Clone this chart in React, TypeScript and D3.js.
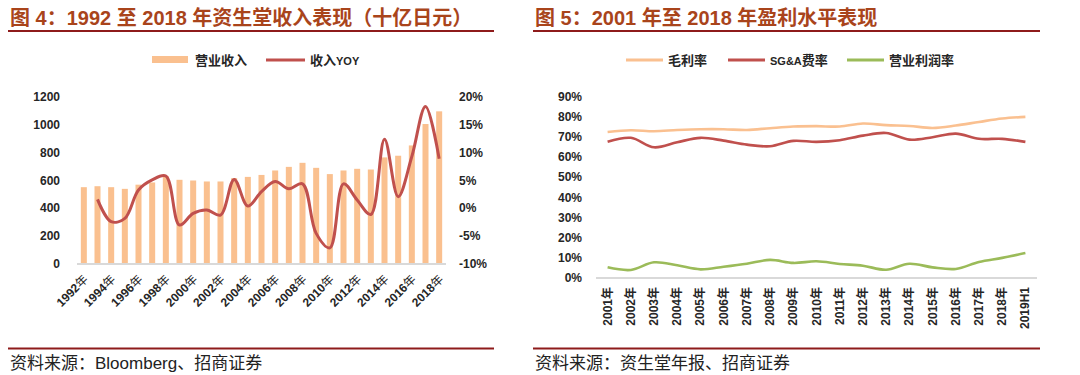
import React from 'react';
import * as d3 from 'd3';

// Figure 4: revenue (bn JPY) and YoY growth
const revYears = [1992, 1993, 1994, 1995, 1996, 1997, 1998, 1999, 2000, 2001, 2002, 2003, 2004, 2005, 2006, 2007, 2008, 2009, 2010, 2011, 2012, 2013, 2014, 2015, 2016, 2017, 2018];
const revenue = [552, 559, 552, 540, 570, 586, 630, 605, 600, 593, 593, 617, 626, 640, 672, 698, 727, 691, 646, 672, 684, 679, 766, 778, 852, 1006, 1097];
// YOY in %, null where no value (1992)
const revYoy = [null, 1.6, -2.4, -1.8, 3.3, 5.1, 5.8, -3.0, -0.9, -0.3, -1.2, 5.2, 0.4, 3.0, 4.8, 3.5, 4.4, -4.5, -7.1, 4.4, 1.5, -1.1, 12.4, 2.1, 9.3, 18.3, 8.9];
const leftTicks = [0, 200, 400, 600, 800, 1000, 1200];
const rightTicks = [-10, -5, 0, 5, 10, 15, 20];

// Figure 5: margins
const marginCats = ['2001年', '2002年', '2003年', '2004年', '2005年', '2006年', '2007年', '2008年', '2009年', '2010年', '2011年', '2012年', '2013年', '2014年', '2015年', '2016年', '2017年', '2018年', '2019H1'];
const grossMargin = [72.6, 73.5, 73.0, 73.6, 74.0, 74.0, 73.6, 74.5, 75.3, 75.5, 75.3, 76.8, 76.0, 75.6, 74.6, 75.8, 77.6, 79.3, 80.1];
const sgaRatio = [67.7, 69.7, 65.0, 67.5, 69.7, 68.3, 66.3, 65.5, 68.2, 67.7, 68.5, 70.8, 72.1, 68.8, 70.0, 71.8, 69.2, 69.2, 67.7];
const opMargin = [5.3, 4.0, 7.8, 6.3, 4.3, 5.6, 7.1, 9.0, 7.5, 8.3, 7.0, 6.1, 4.1, 7.1, 5.3, 4.5, 8.0, 10.0, 12.4];
const pctTicks = [0, 10, 20, 30, 40, 50, 60, 70, 80, 90];

const FONT = '"Liberation Sans", "Noto Sans CJK SC", sans-serif';
const TITLE_COLOR = '#A9441B';
const RULE_COLOR = '#8E1B1B';
const BAR = '#FAC08F';
const RED = '#C0504D';
const ORANGE = '#FAC090';
const GREEN = '#9BBB59';
const TEXT = '#262626';

const Frame = ({ x0, x1, title, source }) => (
  <g>
    <text x={x0 + 2} y={25} fontSize={20} fontWeight="bold" fill={TITLE_COLOR}>{title}</text>
    <line x1={x0} x2={x1} y1={31} y2={31} stroke={RULE_COLOR} strokeWidth={2} />
    <line x1={x0} x2={x1} y1={348.5} y2={348.5} stroke={RULE_COLOR} strokeWidth={2} />
    <text x={x0 + 2} y={369} fontSize={17} fill="#222">{source}</text>
  </g>
);

const RevenueChart = () => {
  const x = d3.scaleBand<number>().domain(revYears).range([77, 446]).paddingInner(0.56).paddingOuter(0.28);
  const yL = d3.scaleLinear().domain([0, 1200]).range([264, 97]);
  const yR = d3.scaleLinear().domain([-10, 20]).range([264, 97]);
  const cx = (d: number) => (x(d) as number) + x.bandwidth() / 2;
  const pts = revYears.map((yr, i) => ({ yr, v: revYoy[i] })).filter((d) => d.v !== null);
  const line = d3.line<any>().x((d) => cx(d.yr)).y((d) => yR(d.v)).curve(d3.curveCatmullRom.alpha(0.5));
  return (
    <g>
      {revYears.map((yr, i) => (
        <rect key={yr} x={x(yr)} y={yL(revenue[i])} width={x.bandwidth()} height={yL(0) - yL(revenue[i])} fill={BAR} />
      ))}
      <line x1={77} x2={446} y1={264} y2={264} stroke="#D9D9D9" strokeWidth={2} />
      <path d={line(pts) || ''} fill="none" stroke={RED} strokeWidth={3} />
      {leftTicks.map((t) => (
        <text key={t} x={60} y={yL(t) + 4} textAnchor="end" fontSize={12} fontWeight="bold" fill={TEXT}>{t}</text>
      ))}
      {rightTicks.map((t) => (
        <text key={t} x={459} y={yR(t) + 4} fontSize={12} fontWeight="bold" fill={TEXT}>{t}%</text>
      ))}
      {revYears.filter((_, i) => i % 2 === 0).map((yr) => (
        <text key={yr} transform={`translate(${cx(yr) + 5},${280}) rotate(-45)`} textAnchor="end" fontSize={12} fontWeight="bold" fill={TEXT}>
          {yr}<tspan fontWeight="normal">年</tspan>
        </text>
      ))}
      {/* legend */}
      <rect x={152} y={56} width={36} height={7} fill={BAR} />
      <text x={195} y={65} fontSize={13} fontWeight="bold" fill={TEXT}>营业收入</text>
      <line x1={266} x2={305} y1={60} y2={60} stroke={RED} strokeWidth={3} />
      <text x={310} y={65} fontSize={13} fontWeight="bold" fill={TEXT}>收入<tspan fontSize={11}>YOY</tspan></text>
    </g>
  );
};

const MarginChart = () => {
  const x = d3.scaleBand<string>().domain(marginCats).range([596, 1037]);
  const y = d3.scaleLinear().domain([0, 90]).range([278, 97]);
  const cx = (d: string) => (x(d) as number) + x.bandwidth() / 2;
  const mk = (vals: number[]) =>
    d3.line<number>().x((_, i) => cx(marginCats[i])).y((v) => y(v)).curve(d3.curveCatmullRom.alpha(0.5))(vals) || '';
  const series = [
    { name: '毛利率', vals: grossMargin, color: ORANGE },
    { name: 'SG&A费率', vals: sgaRatio, color: RED },
    { name: '营业利润率', vals: opMargin, color: GREEN },
  ];
  const legendX = [626, 728, 847];
  return (
    <g>
      <line x1={596} x2={1037} y1={278} y2={278} stroke="#D9D9D9" strokeWidth={2} />
      {series.map((s) => (
        <path key={s.name} d={mk(s.vals)} fill="none" stroke={s.color} strokeWidth={2.6} />
      ))}
      {pctTicks.map((t) => (
        <text key={t} x={582} y={y(t) + 4} textAnchor="end" fontSize={12} fontWeight="bold" fill={TEXT}>{t}%</text>
      ))}
      {marginCats.map((c) => (
        <text key={c} transform={`translate(${cx(c) + 4},${287}) rotate(-90)`} textAnchor="end" fontSize={12} fontWeight="bold" fill={TEXT}>{c}</text>
      ))}
      {series.map((s, i) => (
        <g key={s.name}>
          <line x1={legendX[i]} x2={legendX[i] + 37} y1={60} y2={60} stroke={s.color} strokeWidth={3} />
          <text x={legendX[i] + 42} y={65} fontSize={13} fontWeight="bold" fill={TEXT}>
            {s.name === 'SG&A费率' ? (<><tspan fontSize={11}>SG&amp;A</tspan>费率</>) : s.name}
          </text>
        </g>
      ))}
    </g>
  );
};

export default function App() {
  return (
    <svg width={1080} height={375} style={{ position: 'absolute', left: 0, top: 0, background: '#fff' }} fontFamily={FONT}>
      <rect width={1080} height={375} fill="#fff" />
      <Frame x0={8} x1={494} title="图 4：1992 至 2018 年资生堂收入表现（十亿日元）" source="资料来源：Bloomberg、招商证券" />
      <Frame x0={533} x1={1040} title="图 5：2001 年至 2018 年盈利水平表现" source="资料来源：资生堂年报、招商证券" />
      <RevenueChart />
      <MarginChart />
    </svg>
  );
}
